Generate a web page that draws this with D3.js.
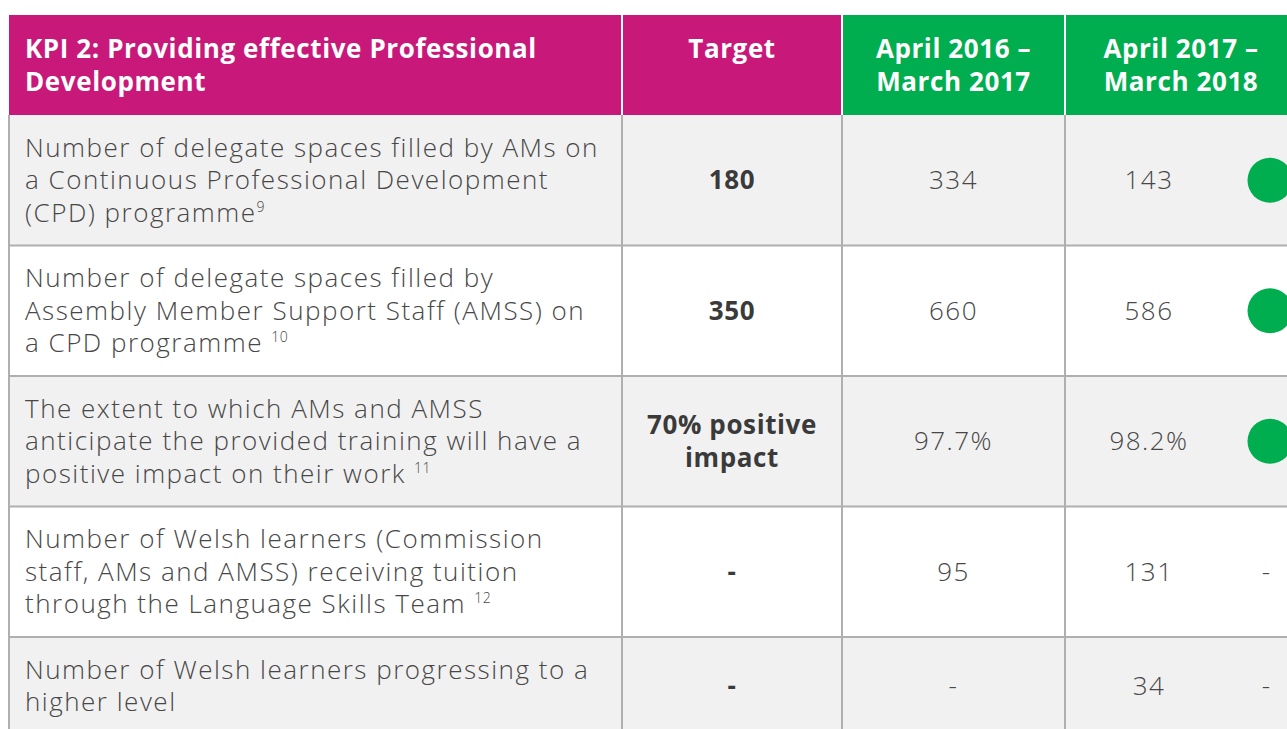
<!DOCTYPE html>
<html>
<head>
<meta charset="utf-8">
<script src="https://cdn.jsdelivr.net/npm/d3@7"></script>
<style>
  html, body { margin: 0; padding: 0; background: #ffffff; }
  svg { display: block; }
</style>
</head>
<body>
<svg id="chart" width="1287" height="729"></svg>
<script>
// ---------- DATA ----------
const headerTitle = ["KPI 2: Providing effective Professional", "Development"];
const headerTarget = ["Target"];
const headerPeriods = [["April 2016 \u2013", "March 2017"], ["April 2017 \u2013", "March 2018"]];

const kpiLines = [
  ["Number of delegate spaces filled by AMs on", "a Continuous Professional Development", "(CPD) programme"],
  ["Number of delegate spaces filled by", "Assembly Member Support Staff (AMSS) on", "a CPD programme "],
  ["The extent to which AMs and AMSS", "anticipate the provided training will have a", "positive impact on their work "],
  ["Number of Welsh learners (Commission", "staff, AMs and AMSS) receiving tuition", "through the Language Skills Team "],
  ["Number of Welsh learners progressing to a", "higher level"]
];
const footnotes = ["9", "10", "11", "12", ""];
const targets = [["180"], ["350"], ["70% positive", "impact"], ["-"], ["-"]];
const period1 = ["334", "660", "97.7%", "95", "-"];
const period2 = ["143", "586", "98.2%", "131", "34"];
const status = ["met", "met", "met", "-", "-"];

// ---------- LAYOUT ----------
const W = 1287, H = 729;
const tableTop = 15, headerH = 100;
const colEdges = [9, 622, 842, 1065, 1233, 1305];
const lineH = 32.5, padV = 16.5;
const pink = "#C8197B", green = "#00AE4F", grid = "#AFAFAF", textCol = "#474747";
const bodyFont = "'Open Sans', 'Noto Sans', sans-serif";
const headFont = "'Open Sans', Lato, sans-serif";
const bodySize = 26, bodySpacing = 1.5;
const headSize = 26, headSpacing = 0.6;

const svg = d3.select("#chart");
svg.append("rect").attr("width", W).attr("height", H).attr("fill", "#fff");

// row geometry from line counts
const rowHeights = kpiLines.map(l => 2 * padV + l.length * lineH);
const rowTops = [];
rowHeights.reduce((acc, h) => { rowTops.push(acc); return acc + h; }, tableTop + headerH);
const rowIdx = d3.range(kpiLines.length);

// column scale: index -> left edge
const x = d3.scaleOrdinal().domain(d3.range(colEdges.length)).range(colEdges);
const colCenter = i => (x(i) + x(i + 1)) / 2;

// ---------- HEADER ----------
const hdr = svg.append("g");
hdr.append("rect").attr("x", x(0)).attr("y", tableTop).attr("width", x(2) - x(0)).attr("height", headerH).attr("fill", pink);
hdr.append("rect").attr("x", x(2)).attr("y", tableTop).attr("width", W - x(2) + 20).attr("height", headerH).attr("fill", green);
[1, 2, 3].forEach(i => {
  hdr.append("line").attr("x1", x(i)).attr("x2", x(i)).attr("y1", tableTop).attr("y2", tableTop + headerH)
    .attr("stroke", "#fff").attr("stroke-width", 2);
});

function headText(lines, cx, anchor) {
  const t = hdr.append("text").attr("font-family", headFont).attr("font-weight", 700)
    .attr("font-size", headSize).attr("letter-spacing", headSpacing).attr("fill", "#fff").attr("text-anchor", anchor);
  lines.forEach((s, k) => {
    t.append("tspan").attr("x", cx).attr("y", tableTop + 43 + k * 33).text(s);
  });
}
headText(headerTitle, 25, "start");
headText(headerTarget, colCenter(1), "middle");
headText(headerPeriods[0], colCenter(2), "middle");
headText(headerPeriods[1], (x(3) + 1297) / 2, "middle");

// ---------- BODY ----------
const body = svg.append("g");
body.selectAll("rect.row").data(rowIdx).join("rect").attr("class", "row")
  .attr("x", x(0)).attr("y", i => rowTops[i]).attr("width", W).attr("height", i => rowHeights[i])
  .attr("fill", i => i % 2 === 0 ? "#F1F1F1" : "#FFFFFF");

// grid lines
body.selectAll("line.h").data(rowIdx.slice(1)).join("line").attr("class", "h")
  .attr("x1", x(0)).attr("x2", W).attr("y1", i => rowTops[i]).attr("y2", i => rowTops[i])
  .attr("stroke", grid).attr("stroke-width", 2);
const bodyBottom = rowTops[rowTops.length - 1] + rowHeights[rowHeights.length - 1];
body.selectAll("line.v").data([0, 1, 2, 3]).join("line").attr("class", "v")
  .attr("x1", i => x(i)).attr("x2", i => x(i))
  .attr("y1", tableTop + headerH).attr("y2", bodyBottom)
  .attr("stroke", grid).attr("stroke-width", 2);

// KPI descriptions
rowIdx.forEach(i => {
  const t = body.append("text").attr("font-family", bodyFont).attr("font-weight", 300)
    .attr("font-size", bodySize).attr("letter-spacing", bodySpacing).attr("fill", textCol);
  kpiLines[i].forEach((s, k) => {
    t.append("tspan").attr("x", 25).attr("y", rowTops[i] + padV + 25 + k * lineH).text(s);
  });
  if (footnotes[i]) {
    t.append("tspan").attr("font-size", 14).attr("letter-spacing", 0.5).attr("dy", -10).text(footnotes[i]);
  }
});

// target (bold)
rowIdx.forEach(i => {
  const lines = targets[i];
  const cy = rowTops[i] + rowHeights[i] / 2;
  const t = body.append("text").attr("font-family", headFont).attr("font-weight", 700)
    .attr("font-size", headSize).attr("letter-spacing", headSpacing).attr("fill", "#3a3a3a").attr("text-anchor", "middle");
  lines.forEach((s, k) => {
    t.append("tspan").attr("x", colCenter(1))
      .attr("y", cy + 9 + (k - (lines.length - 1) / 2) * lineH).text(s);
  });
});

// period values
function valueCol(vals, ci) {
  body.selectAll(null).data(rowIdx).join("text")
    .attr("font-family", bodyFont).attr("font-weight", 300).attr("font-size", bodySize)
    .attr("letter-spacing", bodySpacing)
    .attr("fill", textCol).attr("text-anchor", "middle")
    .attr("x", colCenter(ci)).attr("y", i => rowTops[i] + rowHeights[i] / 2 + 9)
    .text(i => vals[i]);
}
valueCol(period1, 2);
valueCol(period2, 3);

// status column
body.selectAll("circle.status").data(rowIdx.filter(i => status[i] === "met")).join("circle")
  .attr("class", "status").attr("cx", 1270).attr("cy", i => rowTops[i] + rowHeights[i] / 2)
  .attr("r", 22.5).attr("fill", green);
body.selectAll("text.status").data(rowIdx.filter(i => status[i] !== "met")).join("text")
  .attr("class", "status").attr("font-family", bodyFont).attr("font-weight", 300).attr("font-size", bodySize)
  .attr("fill", textCol).attr("text-anchor", "middle")
  .attr("x", 1266).attr("y", i => rowTops[i] + rowHeights[i] / 2 + 9).text(i => status[i]);
</script>
</body>
</html>
